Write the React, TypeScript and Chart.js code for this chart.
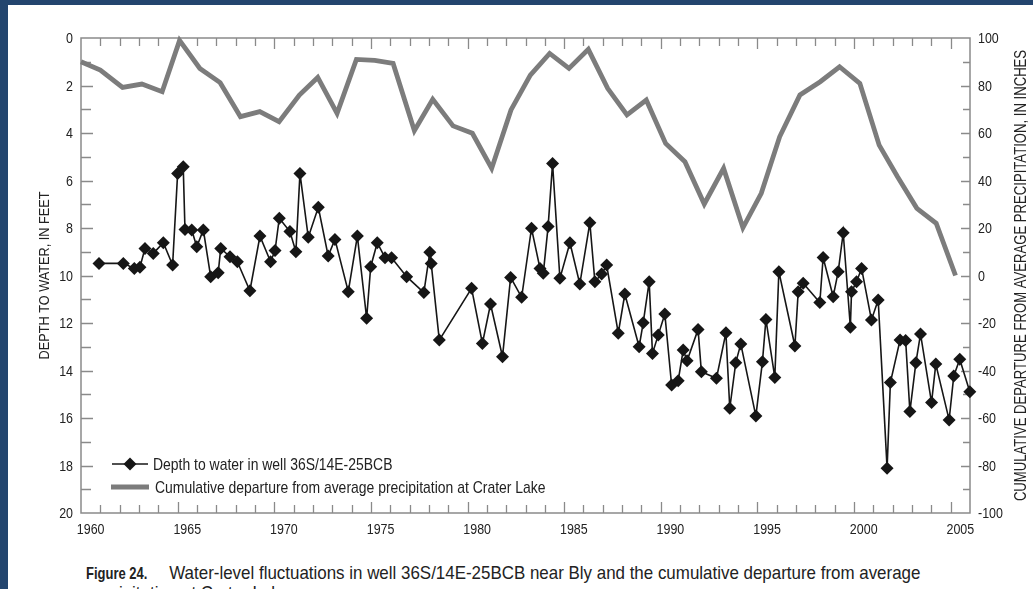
import React, { useEffect, useRef } from 'react';
import { Chart, registerables } from 'chart.js';

Chart.register(...registerables);

// ---- Data ----
const depthDates = [
  1960.93, 1962.19, 1962.76, 1963.05, 1963.31, 1963.74, 1964.26, 1964.74, 1965.0, 1965.29,
  1965.38, 1965.73, 1965.99, 1966.33, 1966.71, 1967.1, 1967.23, 1967.71, 1968.09, 1968.74,
  1969.26, 1969.81, 1970.04, 1970.26, 1970.81, 1971.12, 1971.33, 1971.76, 1972.28, 1972.79,
  1973.14, 1973.83, 1974.3, 1974.78, 1974.99, 1975.33, 1975.73, 1976.07, 1976.85, 1977.74,
  1978.05, 1978.12, 1978.54, 1980.21, 1980.77, 1981.19, 1981.81, 1982.23, 1982.8, 1983.31,
  1983.75, 1983.92, 1984.17, 1984.4, 1984.78, 1985.3, 1985.81, 1986.33, 1986.59, 1986.94,
  1987.2, 1987.8, 1988.14, 1988.88, 1989.09, 1989.4, 1989.57, 1989.87, 1990.21, 1990.56,
  1990.9, 1991.16, 1991.36, 1991.93, 1992.1, 1992.88, 1993.37, 1993.57, 1993.88, 1994.14,
  1994.92, 1995.26, 1995.44, 1995.9, 1996.11, 1996.94, 1997.11, 1997.37, 1998.23, 1998.4,
  1998.92, 1999.18, 1999.44, 1999.81, 1999.87, 2000.13, 2000.39, 2000.9, 2001.25, 2001.71,
  2001.88, 2002.38, 2002.67, 2002.89, 2003.2, 2003.44, 2004.01, 2004.23, 2004.92, 2005.16,
  2005.47, 2005.99,
];
const depthFeet = [
  9.49, 9.49, 9.7, 9.65, 8.86, 9.07, 8.62, 9.56, 5.7, 5.42,
  8.06, 8.08, 8.79, 8.08, 10.05, 9.88, 8.86, 9.21, 9.42, 10.64,
  8.34, 9.42, 8.95, 7.59, 8.15, 9.0, 5.7, 8.39, 7.13, 9.18,
  8.48, 10.68, 8.34, 11.8, 9.63, 8.62, 9.25, 9.25, 10.05, 10.72,
  9.02, 9.49, 12.72, 10.54, 12.86, 11.2, 13.42, 10.08, 10.92, 8.01,
  9.7, 9.91, 7.94, 5.28, 10.12, 8.62, 10.36, 7.78, 10.26, 9.94,
  9.56, 12.43, 10.78, 13.0, 11.99, 10.26, 13.28, 12.5, 11.62, 14.61,
  14.43, 13.14, 13.59, 12.27, 14.05, 14.33, 12.41, 15.59, 13.67, 12.88,
  15.92, 13.63, 11.85, 14.29, 9.84, 12.97, 10.68, 10.33, 11.14, 9.24,
  10.89, 9.84, 8.2, 12.18, 10.68, 10.26, 9.7, 11.87, 11.03, 18.12,
  14.51, 12.72, 12.74, 15.73, 13.67, 12.46, 15.35, 13.73, 16.08, 14.23,
  13.53, 14.89,
];

const precipDates = [
  1960.0, 1961.0, 1962.15, 1963.15, 1964.2, 1965.1, 1966.15, 1967.2, 1968.25, 1969.25,
  1970.25, 1971.3, 1972.25, 1973.25, 1974.25, 1975.2, 1976.15, 1977.25, 1978.2, 1979.25,
  1980.25, 1981.25, 1982.25, 1983.25, 1984.25, 1985.25, 1986.25, 1987.25, 1988.25, 1989.25,
  1990.25, 1991.25, 1992.25, 1993.25, 1994.25, 1995.2, 1996.15, 1997.2, 1998.25, 1999.25,
  2000.3, 2001.3, 2002.25, 2003.25, 2004.25, 2005.25,
];
const precipInches = [
  90, 86.5, 79.2, 80.6, 77.4, 99, 87.2, 81.2, 66.9, 69,
  64.8, 76, 83.4, 68.3, 91, 90.6, 89.3, 61, 74.2, 63,
  59.9, 45.1, 69.7, 84.4, 93.5, 87.2, 95.2, 78.8, 67.6, 73.9,
  55.6, 47.9, 30.1, 45.1, 20.1, 34.6, 58.4, 76, 81.6, 87.9,
  80.9, 54.9, 41.6, 28.3, 22, 0,
];

const xRange = [1960, 2006];
const depthRange = [0, 20];
const precipRange = [-100, 100];

const DEPTH_LABEL = 'Depth to water in well 36S/14E-25BCB';
const PRECIP_LABEL = 'Cumulative departure from average precipitation at Crater Lake';
const LEFT_TITLE = 'DEPTH TO WATER, IN FEET';
const RIGHT_TITLE = 'CUMULATIVE DEPARTURE FROM AVERAGE PRECIPITATION, IN INCHES';
const CAPTION_LABEL = 'Figure 24.';
const CAPTION_TEXT =
  'Water-level fluctuations in well 36S/14E-25BCB near Bly and the cumulative departure from average';
const CAPTION_TEXT2 = 'precipitation at Crater Lake.';

// ---- Styles ----
const FONT = "'Liberation Sans', Arial, sans-serif";
const TEXT = '#222222';
const AXIS = '#8a8a8a';
const BLACK = '#161616';
const GRAY = '#7c7c7c';
const NAVY = '#23456e';

function condensedText(
  ctx: CanvasRenderingContext2D,
  text: string,
  x: number,
  y: number,
  align: CanvasTextAlign,
  sx: number,
  rotate = 0
) {
  ctx.save();
  ctx.translate(x, y);
  if (rotate) ctx.rotate(rotate);
  ctx.scale(sx, 1);
  ctx.textAlign = align;
  ctx.fillText(text, 0, 0);
  ctx.restore();
}

const framePlugin = {
  id: 'frameTicks',
  beforeDatasetsDraw(chart: any) {
    const { ctx, chartArea: a } = chart;
    const xs = chart.scales.x;
    const yl = chart.scales.y;
    const yr = chart.scales.y2;
    ctx.save();
    ctx.strokeStyle = AXIS;
    ctx.lineWidth = 1.3;
    ctx.beginPath();
    xs.ticks.forEach((t: any) => {
      if (t.value <= xs.min || t.value >= xs.max) return;
      const p = Math.round(xs.getPixelForValue(t.value)) + 0.5;
      const L = t.value % 5 === 0 ? 11 : 8;
      ctx.moveTo(p, a.bottom);
      ctx.lineTo(p, a.bottom - L);
      ctx.moveTo(p, a.top);
      ctx.lineTo(p, a.top + L);
    });
    yl.ticks.forEach((t: any) => {
      if (t.value <= yl.min || t.value >= yl.max) return;
      const p = Math.round(yl.getPixelForValue(t.value)) + 0.5;
      const L = t.value % 2 === 0 ? 12 : 10;
      ctx.moveTo(a.left, p);
      ctx.lineTo(a.left + L, p);
    });
    yr.ticks.forEach((t: any) => {
      if (t.value <= yr.min || t.value >= yr.max) return;
      const p = Math.round(yr.getPixelForValue(t.value)) + 0.5;
      const L = t.value % 20 === 0 ? 9 : 7;
      ctx.moveTo(a.right, p);
      ctx.lineTo(a.right - L, p);
    });
    ctx.stroke();
    ctx.lineWidth = 1.5;
    ctx.strokeRect(a.left, a.top, a.right - a.left, a.bottom - a.top);
    ctx.restore();
  },
  afterDraw(chart: any) {
    const { ctx, chartArea: a } = chart;
    const xs = chart.scales.x;
    const yl = chart.scales.y;
    const yr = chart.scales.y2;
    const mid = (a.top + a.bottom) / 2;
    ctx.save();
    ctx.fillStyle = TEXT;
    ctx.textBaseline = 'alphabetic';

    // tick labels
    ctx.font = `15px ${FONT}`;
    xs.ticks.forEach((t: any) => {
      const lbl = xs.options.ticks.callback(t.value);
      if (!lbl) return;
      condensedText(ctx, lbl, xs.getPixelForValue(t.value + 0.5), a.bottom + 21, 'center', 0.83);
    });
    yl.ticks.forEach((t: any) => {
      const lbl = yl.options.ticks.callback(t.value);
      if (!lbl) return;
      condensedText(ctx, lbl, a.left - 8, yl.getPixelForValue(t.value) + 5.3, 'right', 0.83);
    });
    yr.ticks.forEach((t: any) => {
      const lbl = yr.options.ticks.callback(t.value);
      if (!lbl) return;
      condensedText(ctx, lbl, a.right + 8, yr.getPixelForValue(t.value) + 5.3, 'left', 0.83);
    });

    // axis titles
    ctx.textBaseline = 'middle';
    ctx.font = `15.5px ${FONT}`;
    condensedText(ctx, LEFT_TITLE, 45, mid, 'center', 0.82, -Math.PI / 2);
    ctx.font = `16px ${FONT}`;
    condensedText(ctx, RIGHT_TITLE, 1022, mid, 'center', 0.82, -Math.PI / 2);

    // legend
    const [d0, d1] = chart.data.datasets;
    const lx = a.left + 30;
    const y0 = a.bottom - 49;
    const y1 = a.bottom - 26;
    ctx.strokeStyle = d0.borderColor;
    ctx.lineWidth = d0.borderWidth;
    ctx.beginPath();
    ctx.moveTo(lx + 1, y0);
    ctx.lineTo(lx + 37, y0);
    ctx.stroke();
    ctx.fillStyle = d0.backgroundColor;
    ctx.beginPath();
    const r = d0.pointRadius;
    const cx = lx + 19;
    ctx.moveTo(cx, y0 - r);
    ctx.lineTo(cx + r, y0);
    ctx.lineTo(cx, y0 + r);
    ctx.lineTo(cx - r, y0);
    ctx.closePath();
    ctx.fill();
    ctx.strokeStyle = d1.borderColor;
    ctx.lineWidth = d1.borderWidth;
    ctx.beginPath();
    ctx.moveTo(lx, y1);
    ctx.lineTo(lx + 38, y1);
    ctx.stroke();
    ctx.fillStyle = TEXT;
    ctx.font = `17px ${FONT}`;
    condensedText(ctx, d0.label, lx + 42, y0 + 1, 'left', 0.82);
    condensedText(ctx, d1.label, lx + 44, y1 + 1, 'left', 0.82);
    ctx.restore();
  },
};

export default function App() {
  const ref = useRef<HTMLCanvasElement | null>(null);

  useEffect(() => {
    if (!ref.current) return;
    const chart = new Chart(ref.current, {
      type: 'line',
      data: {
        datasets: [
          {
            label: DEPTH_LABEL,
            data: depthDates.map((x, i) => ({ x, y: depthFeet[i] })),
            yAxisID: 'y',
            borderColor: BLACK,
            backgroundColor: BLACK,
            borderWidth: 1.6,
            pointStyle: 'rectRot',
            pointRadius: 6.5,
            pointBorderWidth: 0,
            pointBackgroundColor: BLACK,
            tension: 0,
            clip: 10,
            order: 1,
          } as any,
          {
            label: PRECIP_LABEL,
            data: precipDates.map((x, i) => ({ x, y: precipInches[i] })),
            yAxisID: 'y2',
            borderColor: GRAY,
            backgroundColor: GRAY,
            borderWidth: 4.8,
            borderJoinStyle: 'miter',
            pointRadius: 0,
            tension: 0,
            clip: 4,
            order: 2,
          } as any,
        ],
      },
      options: {
        responsive: false,
        animation: false,
        devicePixelRatio: 1,
        layout: { padding: { top: 38, left: 0, right: 0, bottom: 0 } },
        plugins: { legend: { display: false }, tooltip: { enabled: false } },
        scales: {
          x: {
            type: 'linear',
            min: xRange[0],
            max: xRange[1],
            grid: { display: false, drawTicks: false },
            border: { display: false },
            ticks: {
              display: false,
              stepSize: 1,
              autoSkip: false,
              maxRotation: 0,
              callback: (v: any) => (v % 5 === 0 && v < xRange[1] ? String(v) : ''),
            },
            afterFit: (s: any) => {
              s.height = 32;
            },
          },
          y: {
            type: 'linear',
            position: 'left',
            reverse: true,
            min: depthRange[0],
            max: depthRange[1],
            grid: { display: false, drawTicks: false },
            border: { display: false },
            ticks: {
              display: false,
              stepSize: 1,
              autoSkip: false,
              callback: (v: any) => (v % 2 === 0 ? String(v) : ''),
            },
            afterFit: (s: any) => {
              s.width = 81;
            },
          },
          y2: {
            type: 'linear',
            position: 'right',
            min: precipRange[0],
            max: precipRange[1],
            grid: { display: false, drawTicks: false },
            border: { display: false },
            ticks: {
              display: false,
              stepSize: 10,
              autoSkip: false,
              callback: (v: any) => (v % 20 === 0 ? String(v) : ''),
            },
            afterFit: (s: any) => {
              s.width = 63;
            },
          },
        },
      } as any,
      plugins: [framePlugin],
    });
    return () => chart.destroy();
  }, []);

  const captionLine: React.CSSProperties = {
    position: 'absolute',
    left: 86,
    whiteSpace: 'nowrap',
    fontFamily: FONT,
    fontSize: 18.5,
    lineHeight: '20px',
    color: TEXT,
    transform: 'scaleX(0.915)',
    transformOrigin: 'left center',
  };

  return (
    <div
      style={{
        position: 'absolute',
        left: 0,
        top: 0,
        width: 1033,
        height: 589,
        overflow: 'hidden',
        background: NAVY,
      }}
    >
      <div
        style={{
          position: 'absolute',
          left: 8,
          top: 5,
          right: 0,
          bottom: 0,
          background: '#ffffff',
        }}
      />
      <canvas
        ref={ref}
        width={1033}
        height={545}
        style={{ position: 'absolute', left: 0, top: 0, width: 1033, height: 545 }}
      />
      <div style={{ ...captionLine, top: 563 }}>
        <span
          style={{
            display: 'inline-block',
            width: 91,
            fontWeight: 'bold',
            fontSize: 16.5,
            transform: 'scaleX(0.86)',
            transformOrigin: 'left center',
          }}
        >
          {CAPTION_LABEL}
        </span>
        <span>{CAPTION_TEXT}</span>
      </div>
      <div style={{ ...captionLine, top: 583 }}>{CAPTION_TEXT2}</div>
    </div>
  );
}
